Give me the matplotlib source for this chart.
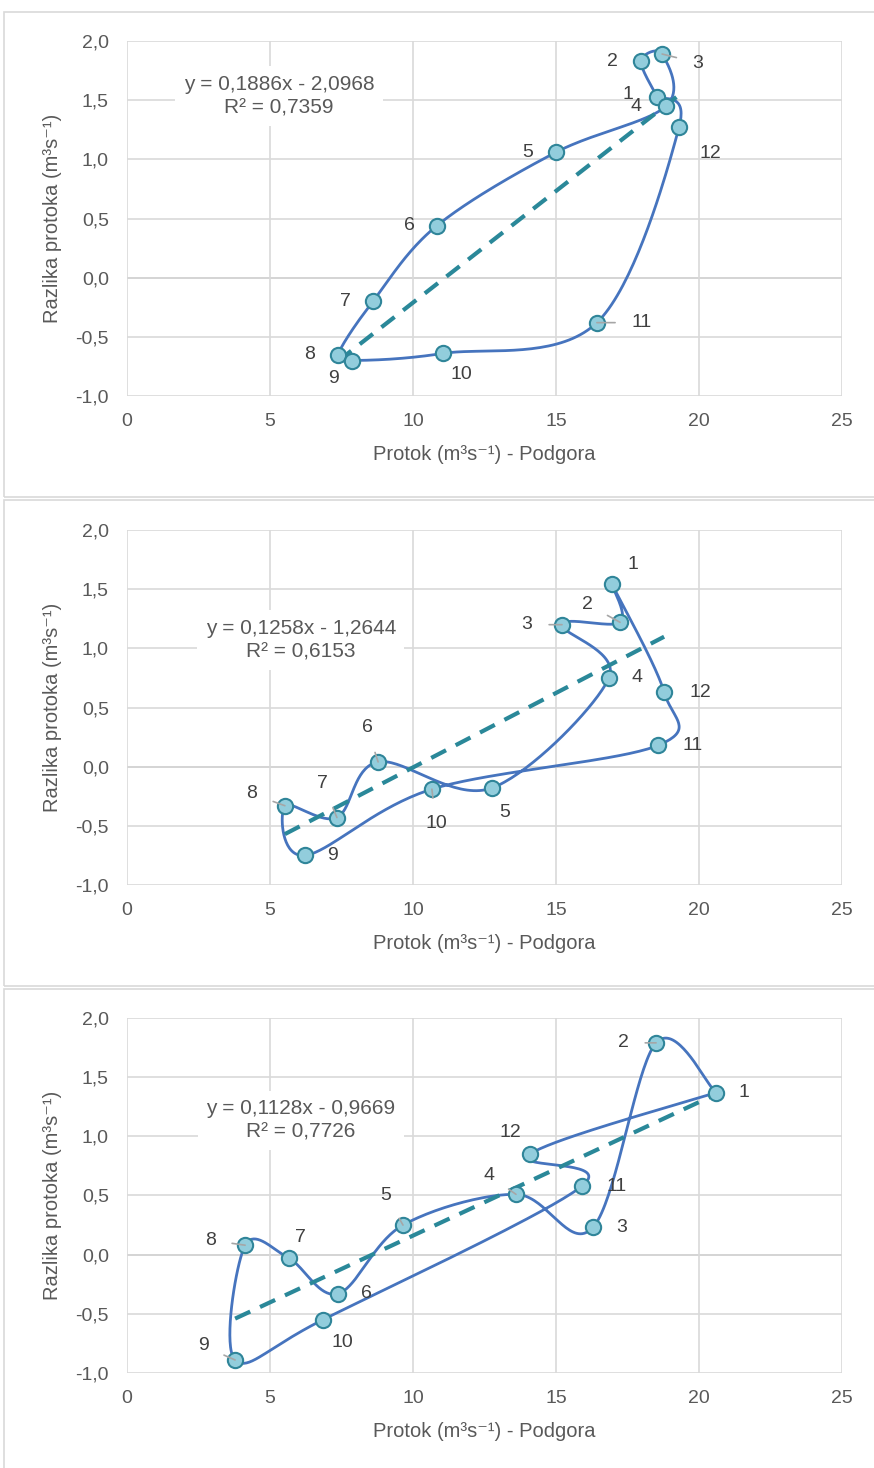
import numpy as np
import matplotlib
matplotlib.use("Agg")
import matplotlib.pyplot as plt
from matplotlib.patches import Rectangle
from matplotlib.ticker import FuncFormatter, MultipleLocator

plt.rcParams['font.family'] = ['Liberation Sans', 'DejaVu Sans']

# podaci (mjeseci 1..12)
mjeseci = [str(i) for i in range(1, 13)]

x1 = [18.53, 17.97, 18.71, 18.85, 15.00, 10.84, 8.60, 7.38, 7.87, 11.05, 16.43, 19.30]
y1 = [1.53, 1.83, 1.89, 1.45, 1.06, 0.44, -0.20, -0.65, -0.70, -0.64, -0.38, 1.27]

x2 = [16.96, 17.24, 15.21, 16.85, 12.76, 8.78, 7.34, 5.52, 6.22, 10.66, 18.57, 18.78]
y2 = [1.54, 1.22, 1.20, 0.75, -0.18, 0.04, -0.43, -0.33, -0.75, -0.19, 0.18, 0.63]

x3 = [20.59, 18.50, 16.29, 13.60, 9.65, 7.38, 5.66, 4.13, 3.78, 6.85, 15.91, 14.09]
y3 = [1.37, 1.79, 0.23, 0.51, 0.25, -0.33, -0.03, 0.08, -0.89, -0.55, 0.58, 0.85]

nagib = [0.1886, 0.1258, 0.1128]
odsjecak = [-2.0968, -1.2644, -0.9669]
r2 = [0.7359, 0.6153, 0.7726]

# raspored oznaka (pomak u pikselima) i koje imaju linije vodilice
off1 = [(-29, 2), (-29, 0), (36, -9), (-30, 0), (-28, 0), (-28, 0), (-28, 0),
        (-29, 0), (-19, -18), (18, -21), (45, 0), (31, -26)]
lead1 = [False, False, True, False, False, False, False, False, False, False, True, False]
off2 = [(21, 20), (-33, 18), (-35, 0), (28, 0), (13, -25), (-11, 34), (-14, 34),
        (-33, 12), (28, 0), (4, -34), (35, 0), (36, 0)]
lead2 = [False, True, True, False, False, True, True, True, False, True, False, False]
off3 = [(28, 0), (-33, 0), (29, 0), (-27, 19), (-17, 30), (28, 0), (12, 21),
        (-35, 5), (-32, 14), (19, -23), (35, 0), (-20, 22)]
lead3 = [False, True, False, True, True, False, False, True, True, False, False, False]
eq_pos = [(5.31, 1.535), (6.08, 1.07), (6.08, 1.135)]


def glatko(x, y, n=40):
    # Excel-like smoothing (Catmull-Rom), zatvorena petlja 1..12,1
    px = np.array(list(x) + [x[0]])
    py = np.array(list(y) + [y[0]])
    px = np.concatenate([[px[0]], px, [px[-1]]])
    py = np.concatenate([[py[0]], py, [py[-1]]])
    xs, ys = [], []
    t = np.linspace(0, 1, n)
    for i in range(1, len(px) - 2):
        for P, out in ((px, xs), (py, ys)):
            p0, p1, p2, p3 = P[i - 1], P[i], P[i + 1], P[i + 2]
            c1 = p1 + (p2 - p0) / 6
            c2 = p2 - (p3 - p1) / 6
            out.extend((1 - t)**3 * p1 + 3 * (1 - t)**2 * t * c1 + 3 * (1 - t) * t**2 * c2 + t**3 * p2)
    return np.array(xs), np.array(ys)


fig = plt.figure(figsize=(8.74, 14.68), dpi=100)
W, H = 874, 1468
FS = 14

# okviri grafova
for top, bot in [(12, 497), (500, 986), (989, 1475)]:
    fig.patches.append(Rectangle((4 / W, 1 - bot / H), 1.0, (bot - top) / H,
                                 transform=fig.transFigure, fill=False,
                                 edgecolor='#D9D9D9', lw=1.2))

siva = '#595959'
podaci = [(x1, y1, off1, lead1), (x2, y2, off2, lead2), (x3, y3, off3, lead3)]
tops = [41, 530, 1018]

for k, (x, y, off, lead) in enumerate(podaci):
    top = tops[k]
    ax = fig.add_axes([127 / W, 1 - (top + 355) / H, 715 / W, 355 / H])
    ax.set_xlim(0, 25)
    ax.set_ylim(-1, 2)
    ax.xaxis.set_major_locator(MultipleLocator(5))
    ax.yaxis.set_major_locator(MultipleLocator(0.5))
    ax.yaxis.set_major_formatter(FuncFormatter(lambda v, p: f"{v:.1f}".replace('.', ',')))
    for s in ax.spines.values():
        s.set_visible(False)
    ax.grid(True, color='#D9D9D9', lw=1.2)
    ax.set_axisbelow(True)
    ax.axhline(0, color='#BFBFBF', lw=1.3, zorder=0.5)
    ax.tick_params(length=0, labelsize=FS, labelcolor=siva)
    ax.tick_params(axis='y', pad=13)
    ax.tick_params(axis='x', pad=12)

    sx, sy = glatko(x, y)
    ax.plot(sx, sy, color='#4674BE', lw=2, zorder=2)

    tx = np.array([min(x), max(x)])
    ax.plot(tx, nagib[k] * tx + odsjecak[k], color='#2A8899', lw=3,
            dashes=(4, 2.6), zorder=3)

    ax.plot(x, y, 'o', ms=11, mfc='#92CDDC', mec='#2F8599', mew=1.5, zorder=4)

    for i, lab in enumerate(mjeseci):
        dx, dy = off[i]
        if lead[i]:
            ax.annotate(lab, (x[i], y[i]), xytext=(dx, dy), textcoords='offset pixels',
                        ha='center', va='center', fontsize=FS, color='#404040',
                        arrowprops=dict(arrowstyle='-', color='#A6A6A6', lw=1.2,
                                        shrinkA=10, shrinkB=0), zorder=5)
        else:
            ax.annotate(lab, (x[i], y[i]), xytext=(dx, dy), textcoords='offset pixels',
                        ha='center', va='center', fontsize=FS, color='#404040', zorder=5)

    eq = f"y = {nagib[k]:.4f}x - {abs(odsjecak[k]):.4f}\nR² = {r2[k]:.4f}".replace('.', ',')
    ax.text(eq_pos[k][0], eq_pos[k][1], eq, ha='center', va='center', fontsize=15,
            color=siva, linespacing=1.3, zorder=1.5,
            bbox=dict(facecolor='white', edgecolor='none', pad=6))

    ax.set_xlabel('Protok (m³s⁻¹) - Podgora', fontsize=14.5, color=siva, labelpad=11)
    ax.set_ylabel('Razlika protoka (m³s⁻¹)', fontsize=14.5, color=siva, labelpad=10)

fig.savefig('out.png', dpi=100, facecolor='white')
